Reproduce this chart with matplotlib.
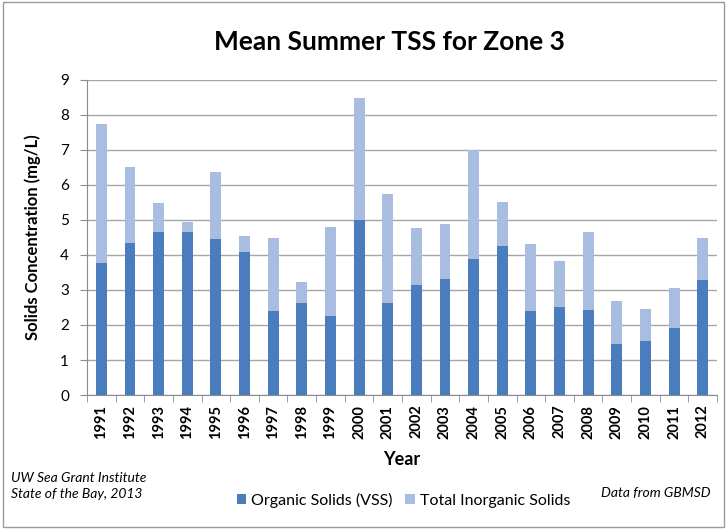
import matplotlib
matplotlib.use("Agg")
import matplotlib.pyplot as plt
import numpy as np
from matplotlib.patches import Rectangle

years = [str(y) for y in range(1991, 2013)]
organic = [3.77, 4.34, 4.66, 4.66, 4.46, 4.09, 2.40, 2.63, 2.26, 5.00, 2.63,
           3.14, 3.31, 3.89, 4.26, 2.40, 2.51, 2.43, 1.46, 1.54, 1.91, 3.29]
total = [7.74, 6.51, 5.49, 4.94, 6.37, 4.54, 4.49, 3.23, 4.80, 8.49, 5.74,
         4.77, 4.89, 7.00, 5.51, 4.31, 3.83, 4.66, 2.69, 2.46, 3.06, 4.49]
inorganic = [t - o for t, o in zip(total, organic)]
yticks = list(range(0, 10))

plt.rcParams['font.family'] = ['Lato', 'DejaVu Sans']

fig = plt.figure(figsize=(7.27, 5.29), dpi=100)
fig.patch.set_facecolor('white')
fig.patches.append(Rectangle((0.004, 0.004), 0.992, 0.992, transform=fig.transFigure,
                             fill=False, edgecolor='#9a9a9a', linewidth=1.0))

ax = fig.add_axes([0.1197, 0.2533, 0.8666, 0.5955])
x = np.arange(len(years))
c_org = '#4a7dbe'
c_inorg = '#a8bddf'
ax.bar(x, organic, width=0.38, color=c_org, zorder=3, label='Organic Solids (VSS)')
ax.bar(x, inorganic, bottom=organic, width=0.38, color=c_inorg, zorder=3,
       label='Total Inorganic Solids')

ax.set_ylim(0, 9)
ax.set_xlim(-0.5, len(years) - 0.5)
ax.set_yticks(yticks)
ax.set_yticklabels([str(v) for v in yticks], fontsize=11)
ax.yaxis.grid(True, color='#a6a6a6', linewidth=1.0, zorder=0)
ax.set_axisbelow(True)

ax.set_xticks(x)
ax.set_xticklabels(years, rotation=90, fontsize=10.5, fontweight='bold')
ax.tick_params(axis='x', length=0, pad=7)
ax.set_xticks(np.arange(-0.5, len(years)), minor=True)
ax.tick_params(axis='x', which='minor', length=5, color='#8c8c8c')
ax.tick_params(axis='y', length=5, color='#8c8c8c', pad=8)

for s in ['top', 'right']:
    ax.spines[s].set_visible(False)
for s in ['left', 'bottom']:
    ax.spines[s].set_color('#8c8c8c')

ax.set_ylabel('Solids Concentration (mg/L)', fontsize=12, fontweight='bold', labelpad=14)
ax.set_xlabel('Year', fontsize=13, fontweight='bold', labelpad=9)

fig.text(0.535, 0.92, 'Mean Summer TSS for Zone 3', fontsize=19, fontweight='bold',
         ha='center', va='center')

fig.text(0.015, 0.097, 'UW Sea Grant Institute', fontsize=10, style='italic', ha='left', va='center')
fig.text(0.015, 0.066, 'State of the Bay, 2013', fontsize=10, style='italic', ha='left', va='center')
fig.text(0.978, 0.068, 'Data from GBMSD', fontsize=10, style='italic', ha='right', va='center')

fig.legend(loc='center', bbox_to_anchor=(0.555, 0.054), ncol=2, frameon=False,
           fontsize=11.5, handlelength=0.6, handleheight=0.6, handletextpad=0.3,
           columnspacing=0.8)

fig.savefig('out.png', dpi=100)
